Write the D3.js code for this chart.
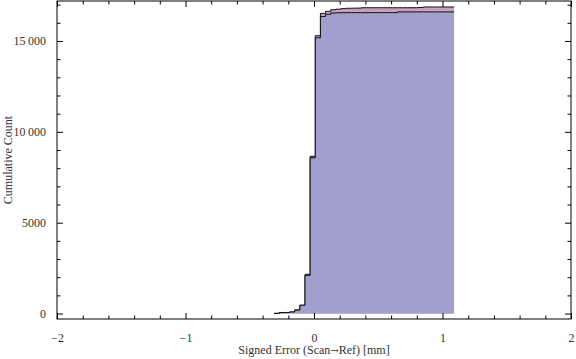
<!DOCTYPE html>
<meta charset="utf-8">
<style>
body { margin: 0; background: #fff; }
svg { display: block; }
.lbl { fill: #333; font-size: 12px; font-family: "Liberation Serif", "Times New Roman", serif; }
.domain { display: none; }
</style>
<svg width="576" height="359"></svg>
<script src="https://cdn.jsdelivr.net/npm/d3@7"></script>
<script>

// bin edges (mm) and cumulative counts for the two data sets
var binEdges = [-0.31, -0.27, -0.23, -0.19, -0.15, -0.11, -0.07, -0.03, 0.01, 0.05,
                0.09, 0.13, 0.17, 0.21, 0.25, 0.29, 0.33, 0.37, 0.41, 0.45,
                0.49, 0.53, 0.57, 0.61, 0.65, 0.69, 0.73, 0.77, 0.81, 0.85,
                0.89, 0.93, 0.97, 1.01, 1.05, 1.09];

var pinkCum = [10, 55, 60, 90, 200, 460, 2160, 8650, 15290, 16520,
               16630, 16720, 16750, 16780, 16800, 16805, 16810, 16830, 16830, 16830,
               16830, 16830, 16830, 16830, 16830, 16830, 16830, 16830, 16840, 16870,
               16870, 16870, 16870, 16870, 16870];

var blueCum = [10, 50, 55, 85, 190, 455, 2100, 8570, 15180, 16350,
               16470, 16540, 16550, 16555, 16560, 16560, 16560, 16560, 16560, 16560,
               16560, 16560, 16560, 16560, 16600, 16600, 16600, 16600, 16600, 16600,
               16600, 16600, 16600, 16600, 16600];

var xMajor = [-2, -1, 0, 1, 2],
    yMajor = [0, 5000, 10000, 15000];

var svg = d3.select("svg");

var mLeft = 57, mRight = 571, mTop = 1, mBottom = 319;

var x = d3.scaleLinear().domain([-2, 2]).range([mLeft, mRight]),
    y = d3.scaleLinear().domain([-300, 17200]).range([mBottom, mTop]);

// Mathematica style: group digits only from 5 digits on, true minus sign
var fmt = function(d) {
  var s = Math.abs(d) >= 10000 ? d3.format(",")(d).replace(",", "\u2009") : String(d);
  return s.replace("-", "\u2212");
};

function steps(vals) {
  var pts = vals.map(function(v, i) { return [binEdges[i], v]; });
  pts.push([binEdges[vals.length], vals[vals.length - 1]]);
  return pts;
}

var area = d3.area()
    .curve(d3.curveStepAfter)
    .x(function(d) { return x(d[0]); })
    .y0(y(0))
    .y1(function(d) { return y(d[1]); });

var line = d3.line()
    .curve(d3.curveStepAfter)
    .x(function(d) { return x(d[0]); })
    .y(function(d) { return y(d[1]); });

[[pinkCum, "#c9a1ba"], [blueCum, "#a09fcd"]].forEach(function(s) {
  var pts = steps(s[0]);
  svg.append("path").attr("d", area(pts)).attr("fill", s[1]);
  svg.append("path").attr("d", line(pts))
      .attr("fill", "none").attr("stroke", "#111").attr("stroke-width", 1);
});

// minor ticks
var xMinor = d3.range(-2, 2.001, 0.2).filter(function(v) { return Math.abs(v - Math.round(v)) > 1e-6; }),
    yMinor = d3.range(0, 17001, 1000).filter(function(v) { return v % 5000; });

function addAxis(axis, transform, labels) {
  var g = svg.append("g").attr("transform", transform).call(axis);
  if (!labels) g.selectAll("text").remove();
  g.selectAll("line").attr("stroke", "#000");
  g.attr("font-family", "Liberation Serif, Times New Roman, serif").attr("font-size", 12);
  g.selectAll("text").attr("fill", "#333");
  return g;
}

// bottom
addAxis(d3.axisBottom(x).tickValues(xMajor).tickSize(-6).tickPadding(14).tickFormat(fmt),
        "translate(0," + mBottom + ")", true);
addAxis(d3.axisBottom(x).tickValues(xMinor).tickSize(-3.5), "translate(0," + mBottom + ")", false);
// top
addAxis(d3.axisTop(x).tickValues(xMajor).tickSize(-6), "translate(0," + mTop + ")", false);
addAxis(d3.axisTop(x).tickValues(xMinor).tickSize(-3.5), "translate(0," + mTop + ")", false);
// left
addAxis(d3.axisLeft(y).tickValues(yMajor).tickSize(-6).tickPadding(11).tickFormat(fmt),
        "translate(" + mLeft + ",0)", true);
addAxis(d3.axisLeft(y).tickValues(yMinor).tickSize(-3.5), "translate(" + mLeft + ",0)", false);
// right
addAxis(d3.axisRight(y).tickValues(yMajor).tickSize(-6), "translate(" + mRight + ",0)", false);
addAxis(d3.axisRight(y).tickValues(yMinor).tickSize(-3.5), "translate(" + mRight + ",0)", false);

// frame
svg.append("rect")
    .attr("x", mLeft).attr("y", mTop)
    .attr("width", mRight - mLeft).attr("height", mBottom - mTop)
    .attr("fill", "none").attr("stroke", "#000").attr("stroke-width", 1);

var xl = svg.append("text").attr("class", "lbl")
    .attr("x", (mLeft + mRight) / 2).attr("y", 354)
    .attr("text-anchor", "middle");
xl.append("tspan").text("Signed Error (Scan");
xl.append("tspan").style("font-family", "DejaVu Serif").style("font-size", "10px").text("\u2192");
xl.append("tspan").text("Ref) [mm]");

svg.append("text").attr("class", "lbl")
    .attr("transform", "translate(12," + ((mTop + mBottom) / 2) + ") rotate(-90)")
    .attr("text-anchor", "middle")
    .text("Cumulative Count");

</script>
